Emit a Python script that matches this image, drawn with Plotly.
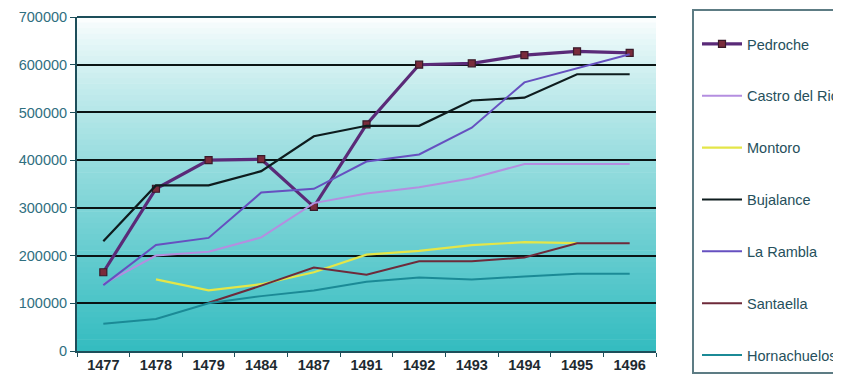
import plotly.graph_objects as go

years = ["1477", "1478", "1479", "1484", "1487", "1491", "1492", "1493", "1494", "1495", "1496"]
pedroche = [165000, 340000, 400000, 402000, 302000, 475000, 600000, 603000, 620000, 628000, 625000]
castro_del_rio = [140000, 200000, 208000, 238000, 310000, 330000, 343000, 362000, 392000, 392000, 392000]
montoro = [None, 150000, 127000, 140000, 165000, 202000, 210000, 222000, 228000, 226000, None]
bujalance = [230000, 347000, 347000, 377000, 450000, 472000, 472000, 525000, 531000, 580000, 580000]
la_rambla = [138000, 222000, 237000, 332000, 340000, 397000, 412000, 468000, 563000, 592000, 622000]
santaella = [None, None, 101000, 137000, 175000, 160000, 188000, 188000, 196000, 226000, 226000]
hornachuelos = [57000, 67000, 100000, 115000, 127000, 145000, 154000, 150000, 156000, 162000, 162000]
y_ticks = [0, 100000, 200000, 300000, 400000, 500000, 600000, 700000]

fig = go.Figure()

series = [
    ("Pedroche", pedroche, "#5a2a78", 3.2),
    ("Castro del Rio", castro_del_rio, "#b48ee0", 2),
    ("Montoro", montoro, "#e4e648", 2.2),
    ("Bujalance", bujalance, "#0e1c1e", 2.2),
    ("La Rambla", la_rambla, "#6650c0", 2),
    ("Santaella", santaella, "#6e2a3a", 2),
    ("Hornachuelos", hornachuelos, "#1b8a96", 2),
]

for i, (name, vals, col, w) in enumerate(series):
    if name == "Pedroche":
        fig.add_trace(go.Scatter(
            x=years, y=vals, name=name, mode="lines+markers",
            line=dict(color=col, width=w),
            marker=dict(symbol="square", size=7, color="#7a2b3b",
                        line=dict(color="#3a1a2a", width=1.2)),
            legendgroup=f"g{i}",
        ))
    else:
        fig.add_trace(go.Scatter(
            x=years, y=vals, name=name, mode="lines",
            line=dict(color=col, width=w),
            legendgroup=f"g{i}",
        ))

# gradient background of the plot area
n = 60
top = (255, 255, 255)
bot = (52, 188, 192)
shapes = []
for k in range(n):
    t0 = k / n
    t1 = (k + 1) / n
    tm = (t0 + t1) / 2  # 0 bottom, 1 top
    f = (1 - tm) ** 0.8
    c = tuple(int(round(top[j] + (bot[j] - top[j]) * f)) for j in range(3))
    shapes.append(dict(type="rect", xref="x domain", yref="y domain",
                       x0=0, x1=1, y0=t0, y1=min(t1 + 0.002, 1.0),
                       fillcolor=f"rgb({c[0]},{c[1]},{c[2]})",
                       line=dict(width=0), layer="below"))

# top frame line of the plot area
shapes.append(dict(type="line", xref="x domain", yref="y domain",
                   x0=0, x1=1, y0=1, y1=1,
                   line=dict(color="#1d4e5a", width=1.8), layer="below"))

# legend frame (extends past the right edge, as in the reference)
PW, PH = 579, 334  # plot area size in px
shapes.append(dict(type="rect", xref="paper", yref="paper",
                   x0=(693 - 77) / PW, x1=(905 - 77) / PW,
                   y0=(351 - 373) / PH, y1=(351 - 10) / PH,
                   line=dict(color="#5d7c84", width=2),
                   fillcolor="rgba(0,0,0,0)", layer="above"))

fig.update_layout(
    width=841, height=385,
    margin=dict(l=69, r=193, t=9, b=42, autoexpand=False),
    paper_bgcolor="white",
    plot_bgcolor="rgba(0,0,0,0)",
    shapes=shapes,
    font=dict(family="Liberation Sans, Arial, sans-serif", size=14),
    showlegend=True,
    legend=dict(
        x=(697 - 77) / PW, xanchor="left",
        y=(351 - 28) / PH, yanchor="top",
        borderwidth=0, bgcolor="rgba(0,0,0,0)",
        font=dict(size=14.5, color="#26505c"),
        tracegroupgap=30, itemwidth=40, maxheight=600,
    ),
)

fig.update_xaxes(
    type="category", range=[-0.5, 10.5],
    showgrid=False, showline=True, linecolor="#1d4e5a", linewidth=2,
    ticks="outside", tickson="boundaries", ticklen=4, tickcolor="#1d4e5a",
    tickfont=dict(size=14.5, color="#1e2a30", weight="bold"),
    zeroline=False,
)
fig.update_yaxes(
    range=[0, 700000], tickvals=y_ticks,
    showgrid=True, gridcolor="#0a1414", gridwidth=2.2,
    showline=True, linecolor="#1d4e5a", linewidth=2,
    ticks="outside", ticklen=5, tickcolor="#1d4e5a",
    tickfont=dict(size=14.5, color="#2f6f80"),
    ticklabeloverflow="allow",
    tickformat="d", zeroline=False,
)

fig.write_html("out.html")
